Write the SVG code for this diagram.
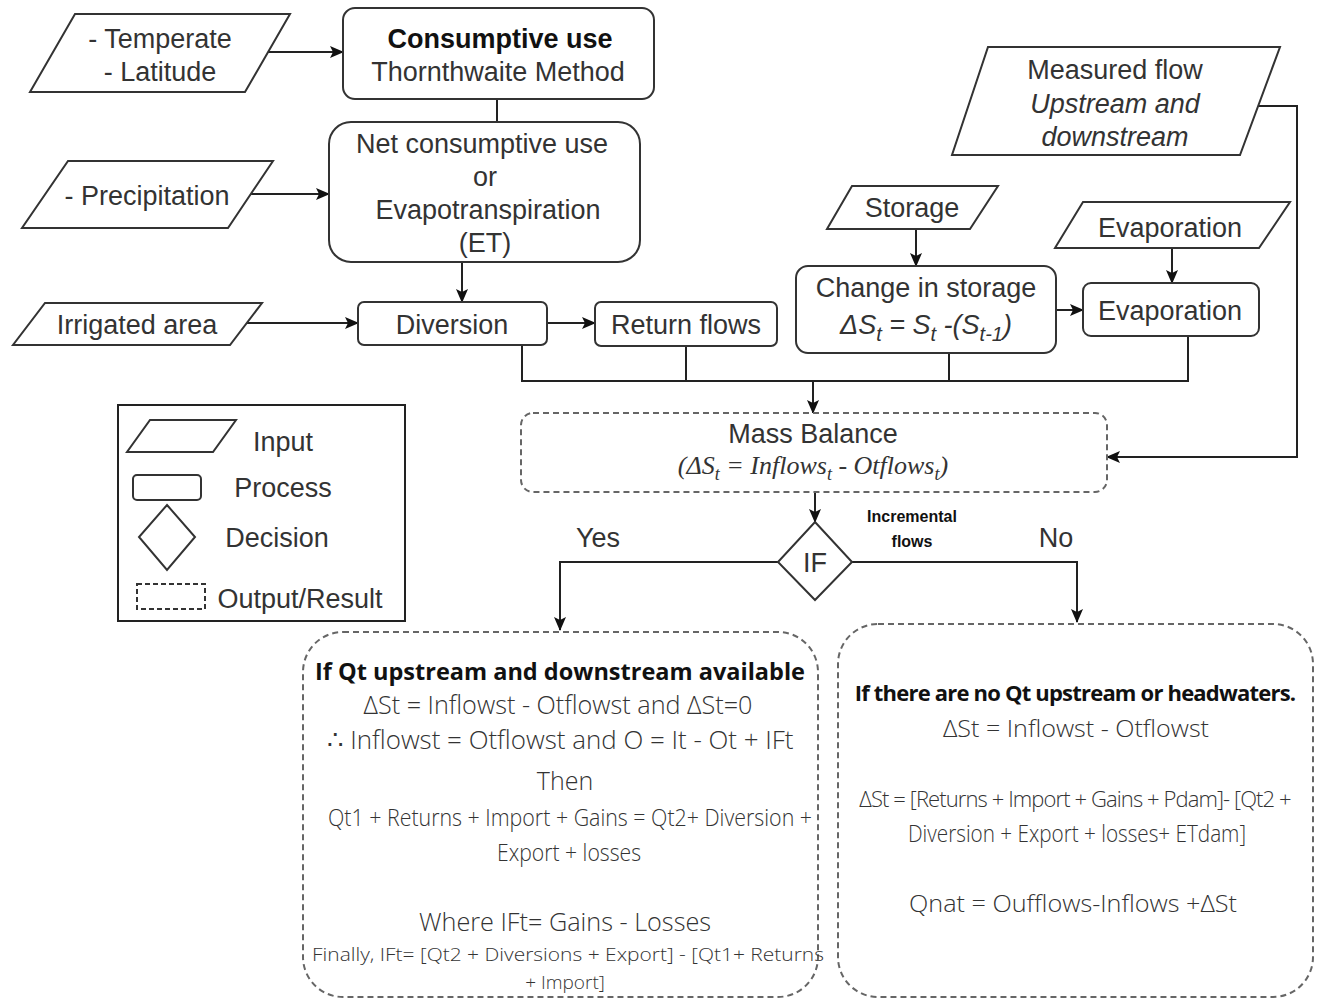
<svg xmlns="http://www.w3.org/2000/svg" width="1317" height="999" viewBox="0 0 1317 999">
<defs>
<marker id="ah" markerWidth="14" markerHeight="12" refX="13" refY="6" orient="auto" markerUnits="userSpaceOnUse">
<path d="M0,0 L14,6 L0,12 L3,6 Z" fill="#111"/>
</marker>
<style>
.sh{fill:#fff;stroke:#333;stroke-width:2}
.out{fill:#fff;stroke:#666;stroke-width:2;stroke-dasharray:6 4}
.cn{fill:none;stroke:#222;stroke-width:2}
.t{font-family:"Liberation Sans",Arial,sans-serif;font-size:27px;fill:#333;text-anchor:middle}
.b{font-weight:bold;fill:#111}
.o{font-family:"Open Sans","Noto Sans",sans-serif;font-weight:300;fill:#333;text-anchor:middle}
.ob{font-family:"Open Sans","Noto Sans",sans-serif;font-weight:bold;fill:#111;text-anchor:middle}
</style>
</defs>
<rect width="1317" height="999" fill="#fff"/>

<g id="connectors">
<line class="cn" x1="268" y1="52" x2="343" y2="52" marker-end="url(#ah)"/>
<line class="cn" x1="497" y1="99" x2="497" y2="122"/>
<line class="cn" x1="251" y1="194" x2="329" y2="194" marker-end="url(#ah)"/>
<line class="cn" x1="462" y1="262" x2="462" y2="302" marker-end="url(#ah)"/>
<line class="cn" x1="247" y1="323" x2="358" y2="323" marker-end="url(#ah)"/>
<line class="cn" x1="547" y1="323" x2="595" y2="323" marker-end="url(#ah)"/>
<line class="cn" x1="916" y1="229" x2="916" y2="266" marker-end="url(#ah)"/>
<line class="cn" x1="1056" y1="310" x2="1083" y2="310" marker-end="url(#ah)"/>
<line class="cn" x1="1172" y1="248" x2="1172" y2="283" marker-end="url(#ah)"/>
<path class="cn" d="M1258,106 H1297 V457 H1107" marker-end="url(#ah)"/>
<path class="cn" d="M522,345 V381 H1188 V336 M686,346 V381 M949,353 V381"/>
<line class="cn" x1="813" y1="381" x2="813" y2="413" marker-end="url(#ah)"/>
<line class="cn" x1="815" y1="492" x2="815" y2="522" marker-end="url(#ah)"/>
<path class="cn" d="M778,562 H560 V630" marker-end="url(#ah)"/>
<path class="cn" d="M852,562 H1077 V622" marker-end="url(#ah)"/>
<text class="t" x="598" y="547">Yes</text>
<text class="t" x="1056" y="547">No</text>
<text class="t b" x="912" y="522" style="font-size:16px">Incremental</text>
<text class="t b" x="912" y="547" style="font-size:16px">flows</text>
</g>

<g id="temperate">
<path class="sh" d="M75,14 L290,14 L245,92 L30,92 Z"/>
<text class="t" x="160" y="48">- Temperate</text>
<text class="t" x="160" y="81">- Latitude</text>
</g>
<g id="consumptive">
<rect class="sh" x="343" y="8" width="311" height="91" rx="12"/>
<text class="t b" x="500" y="48">Consumptive use</text>
<text class="t" x="498" y="81">Thornthwaite Method</text>
</g>
<g id="netuse">
<rect class="sh" x="329" y="122" width="311" height="140" rx="22"/>
<text class="t" x="482" y="153">Net consumptive use</text>
<text class="t" x="485" y="186">or</text>
<text class="t" x="488" y="219">Evapotranspiration</text>
<text class="t" x="485" y="252">(ET)</text>
</g>
<g id="precipitation">
<path class="sh" d="M68,161 L273,161 L228,228 L22,228 Z"/>
<text class="t" x="147" y="205">- Precipitation</text>
</g>
<g id="irrigated">
<path class="sh" d="M45,303 L262,303 L230,345 L13,345 Z"/>
<text class="t" x="137" y="334">Irrigated area</text>
</g>
<g id="diversion">
<rect class="sh" x="358" y="302" width="189" height="43" rx="6"/>
<text class="t" x="452" y="334">Diversion</text>
</g>
<g id="returnflows">
<rect class="sh" x="595" y="302" width="182" height="44" rx="6"/>
<text class="t" x="686" y="334">Return flows</text>
</g>
<g id="storage">
<path class="sh" d="M852,186 L998,186 L970,229 L827,229 Z"/>
<text class="t" x="912" y="217">Storage</text>
</g>
<g id="change">
<rect class="sh" x="796" y="266" width="260" height="87" rx="12"/>
<text class="t" x="926" y="297">Change in storage</text>
<text class="t" x="926" y="334" font-style="italic">ΔS<tspan font-size="20" dy="7">t</tspan><tspan dy="-7"> = S</tspan><tspan font-size="20" dy="7">t</tspan><tspan dy="-7"> -(S</tspan><tspan font-size="20" dy="7">t-1</tspan><tspan dy="-7">)</tspan></text>
</g>
<g id="evapinput">
<path class="sh" d="M1083,202 L1290,202 L1259,248 L1055,248 Z"/>
<text class="t" x="1170" y="237">Evaporation</text>
</g>
<g id="evapbox">
<rect class="sh" x="1083" y="283" width="176" height="53" rx="8"/>
<text class="t" x="1170" y="320">Evaporation</text>
</g>
<g id="measured">
<path class="sh" d="M988,47 L1280,47 L1240,155 L952,155 Z"/>
<text class="t" x="1115" y="79">Measured flow</text>
<text class="t" x="1115" y="113" font-style="italic">Upstream and</text>
<text class="t" x="1115" y="146" font-style="italic">downstream</text>
</g>
<g id="massbalance">
<rect class="out" x="521" y="413" width="586" height="79" rx="12"/>
<text class="t" x="813" y="443">Mass Balance</text>
<text x="813" y="474" style="font-family:'Liberation Serif',serif;font-style:italic;font-size:26px;fill:#333;text-anchor:middle">(ΔS<tspan font-size="18" dy="6">t</tspan><tspan dy="-6"> = Inflows</tspan><tspan font-size="18" dy="6">t</tspan><tspan dy="-6"> - Otflows</tspan><tspan font-size="18" dy="6">t</tspan><tspan dy="-6">)</tspan></text>
</g>
<g id="ifdecision">
<path class="sh" d="M815,522 L852,562 L815,600 L778,562 Z"/>
<text class="t" x="815" y="572">IF</text>
</g>
<g id="legend">
<rect x="118" y="405" width="287" height="216" fill="#fff" stroke="#222" stroke-width="2"/>
<path class="sh" d="M150,420 L236,420 L213,452 L127,452 Z"/>
<text class="t" x="283" y="451">Input</text>
<rect class="sh" x="133" y="475" width="68" height="25" rx="4"/>
<text class="t" x="283" y="497">Process</text>
<path class="sh" d="M167,505 L195,537 L167,570 L139,537 Z"/>
<text class="t" x="277" y="547">Decision</text>
<rect class="sh" x="137" y="584" width="68" height="25" style="stroke-dasharray:5 3"/>
<text class="t" x="300" y="608">Output/Result</text>
</g>
<g id="yesresult">
<rect class="out" x="303" y="632" width="515" height="365" rx="40"/>
<text class="ob" x="560" y="680" font-size="24" textLength="490" lengthAdjust="spacingAndGlyphs">If Qt upstream and downstream available</text>
<text class="o" x="558" y="714" font-size="26" textLength="389" lengthAdjust="spacingAndGlyphs">ΔSt = Inflowst - Otflowst and ΔSt=0</text>
<text class="o" x="560" y="749" font-size="26" textLength="467" lengthAdjust="spacingAndGlyphs">∴ Inflowst = Otflowst and O = It - Ot + IFt</text>
<text class="o" x="565" y="790" font-size="25">Then</text>
<text class="o" x="570" y="826" font-size="24" textLength="484" lengthAdjust="spacingAndGlyphs">Qt1 + Returns + Import + Gains = Qt2+ Diversion +</text>
<text class="o" x="569" y="861" font-size="24" textLength="144" lengthAdjust="spacingAndGlyphs">Export + losses</text>
<text class="o" x="565" y="931" font-size="25" textLength="292" lengthAdjust="spacingAndGlyphs">Where IFt= Gains - Losses</text>
<text class="o" x="568" y="961" font-size="19" textLength="512" lengthAdjust="spacingAndGlyphs">Finally, IFt= [Qt2 + Diversions + Export] - [Qt1+ Returns</text>
<text class="o" x="565" y="989" font-size="19">+ Import]</text>
</g>
<g id="noresult">
<rect class="out" x="838" y="624" width="475" height="373" rx="40"/>
<text class="ob" x="1075" y="701" font-size="22" letter-spacing="-0.8">If there are no Qt upstream or headwaters.</text>
<text class="o" x="1076" y="737" font-size="23" textLength="266" lengthAdjust="spacingAndGlyphs">ΔSt = Inflowst - Otflowst</text>
<text class="o" x="1075" y="807" font-size="22" letter-spacing="-0.9">ΔSt = [Returns + Import + Gains + Pdam]- [Qt2 +</text>
<text class="o" x="1077" y="842" font-size="23" textLength="338" lengthAdjust="spacingAndGlyphs">Diversion + Export + losses+ ETdam]</text>
<text class="o" x="1073" y="912" font-size="23" textLength="328" lengthAdjust="spacingAndGlyphs">Qnat = Oufflows-Inflows +ΔSt</text>
</g>
</svg>
